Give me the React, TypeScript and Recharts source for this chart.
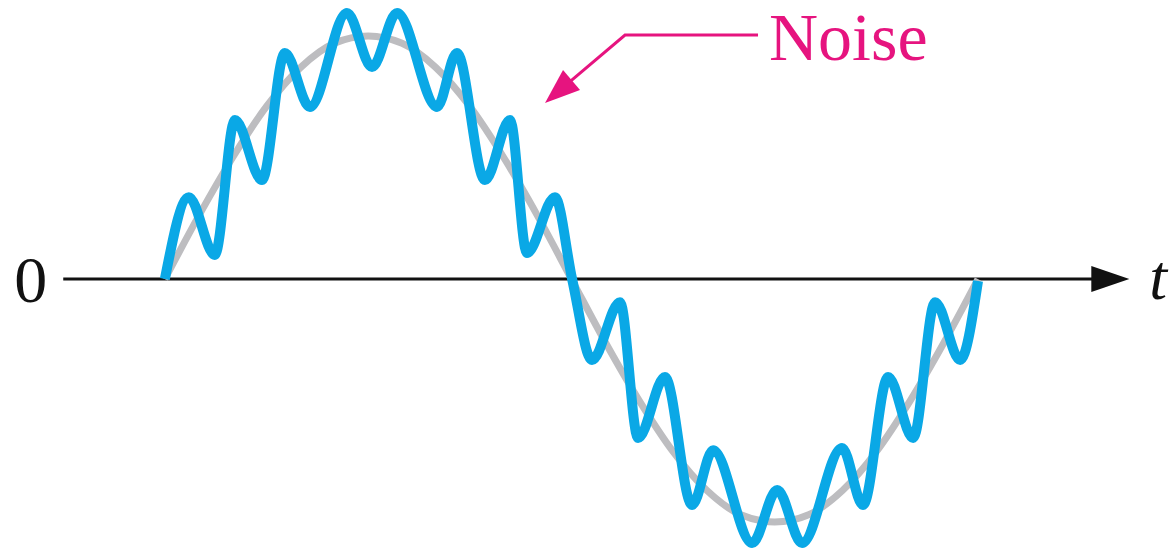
import { LineChart, Line, XAxis, YAxis, ReferenceLine, ReferenceDot } from 'recharts';

// clean signal (gray), phase in degrees
const sineDeg = [0, 15, 30, 45, 60, 75, 90, 105, 120, 135, 150, 165, 180, 195, 210, 225, 240, 255, 270, 285, 300, 315, 330, 345, 360];
const sineVal = [0, 0.26, 0.5, 0.71, 0.87, 0.97, 1, 0.97, 0.87, 0.71, 0.5, 0.26, 0, -0.26, -0.5, -0.71, -0.87, -0.97, -1, -0.97, -0.87, -0.71, -0.5, -0.26, 0];

// noisy signal (blue), read at its peaks and troughs
const noisyDeg = [0, 10.6, 22.1, 31.0, 43.0, 53.1, 64.2, 80.6, 91.7, 102.8, 120.5, 129.3, 141.7, 152.8, 160.3, 172.7, 180.3, 189.1, 201.5, 209.5, 221.4, 233.4, 242.7, 260.0, 271.1, 282.1, 299.8, 309.1, 320.2, 331.3, 341.0, 352.1, 360];
const noisyVal = [0, 0.337, 0.099, 0.654, 0.407, 0.93, 0.708, 1.095, 0.872, 1.095, 0.708, 0.93, 0.407, 0.654, 0.107, 0.337, 0, -0.333, -0.095, -0.654, -0.403, -0.93, -0.704, -1.086, -0.868, -1.086, -0.695, -0.93, -0.403, -0.654, -0.095, -0.333, -0.008];

const axisStart = -45;
const axisEnd = 427;
const noiseTip = { deg: 168.3, v: 0.724 };

const SERIF = '"Liberation Serif", "Times New Roman", serif';
const MAGENTA = '#e6147f';

const sineData = sineDeg.map((d, i) => ({ deg: d, v: sineVal[i] }));
const noisyData = noisyDeg.map((d, i) => ({ deg: d, v: noisyVal[i] }));

const ArrowHead = (props: any) => {
  const { cx, cy } = props;
  return (
    <g>
      <polygon points={`${cx},${cy} ${cx - 38},${cy - 13} ${cx - 38},${cy + 13}`} fill="#111" />
      <text x={cx + 20} y={cy + 20} fontFamily={SERIF} fontStyle="italic" fontSize={64} fill="#111">t</text>
    </g>
  );
};

const ZeroLabel = (props: any) => {
  const { cx, cy } = props;
  return (
    <text x={cx - 16} y={cy + 23} textAnchor="end" fontFamily={SERIF} fontSize={66} fill="#111">0</text>
  );
};

const NoiseLabel = (props: any) => {
  const { cx, cy } = props;
  // arrow: tip at (cx, cy)
  return (
    <g>
      <polyline points={`${cx + 22},${cy - 19} ${cx + 80},${cy - 68} ${cx + 213},${cy - 68}`} fill="none" stroke={MAGENTA} strokeWidth={3} />
      <polygon points={`${cx},${cy} ${cx + 35},${cy - 13} ${cx + 18},${cy - 33}`} fill={MAGENTA} />
      <text x={cx + 224} y={cy - 43} fontFamily={SERIF} fontSize={68} fill={MAGENTA}>Noise</text>
    </g>
  );
};

const App = () => {
  return (
    <div style={{ position: 'absolute', left: 0, top: 0, width: 1170, height: 552, background: '#fff' }}>
      <LineChart width={1170} height={552} margin={{ top: 0, right: 0, bottom: 0, left: 0 }}>
        <XAxis dataKey="deg" type="number" domain={[-73, 445]} hide allowDataOverflow />
        <YAxis type="number" domain={[-1.123, 1.148]} hide allowDataOverflow />
        <ReferenceLine
          segment={[{ x: axisStart, y: 0 }, { x: axisEnd - 14, y: 0 }]}
          stroke="#111"
          strokeWidth={3}
          ifOverflow="visible"
        />
        <Line
          data={sineData}
          dataKey="v"
          type="monotone"
          stroke="#bdbdc0"
          strokeWidth={7}
          dot={false}
          activeDot={false}
          isAnimationActive={false}
        />
        <Line
          data={noisyData}
          dataKey="v"
          type="monotone"
          stroke="#0aa8e6"
          strokeWidth={10}
          strokeLinejoin="round"
          dot={false}
          activeDot={false}
          isAnimationActive={false}
        />
        <ReferenceDot x={axisEnd} y={0} ifOverflow="visible" shape={ArrowHead} />
        <ReferenceDot x={axisStart} y={0} ifOverflow="visible" shape={ZeroLabel} />
        <ReferenceDot x={noiseTip.deg} y={noiseTip.v} ifOverflow="visible" shape={NoiseLabel} />
      </LineChart>
    </div>
  );
};

export default App;
